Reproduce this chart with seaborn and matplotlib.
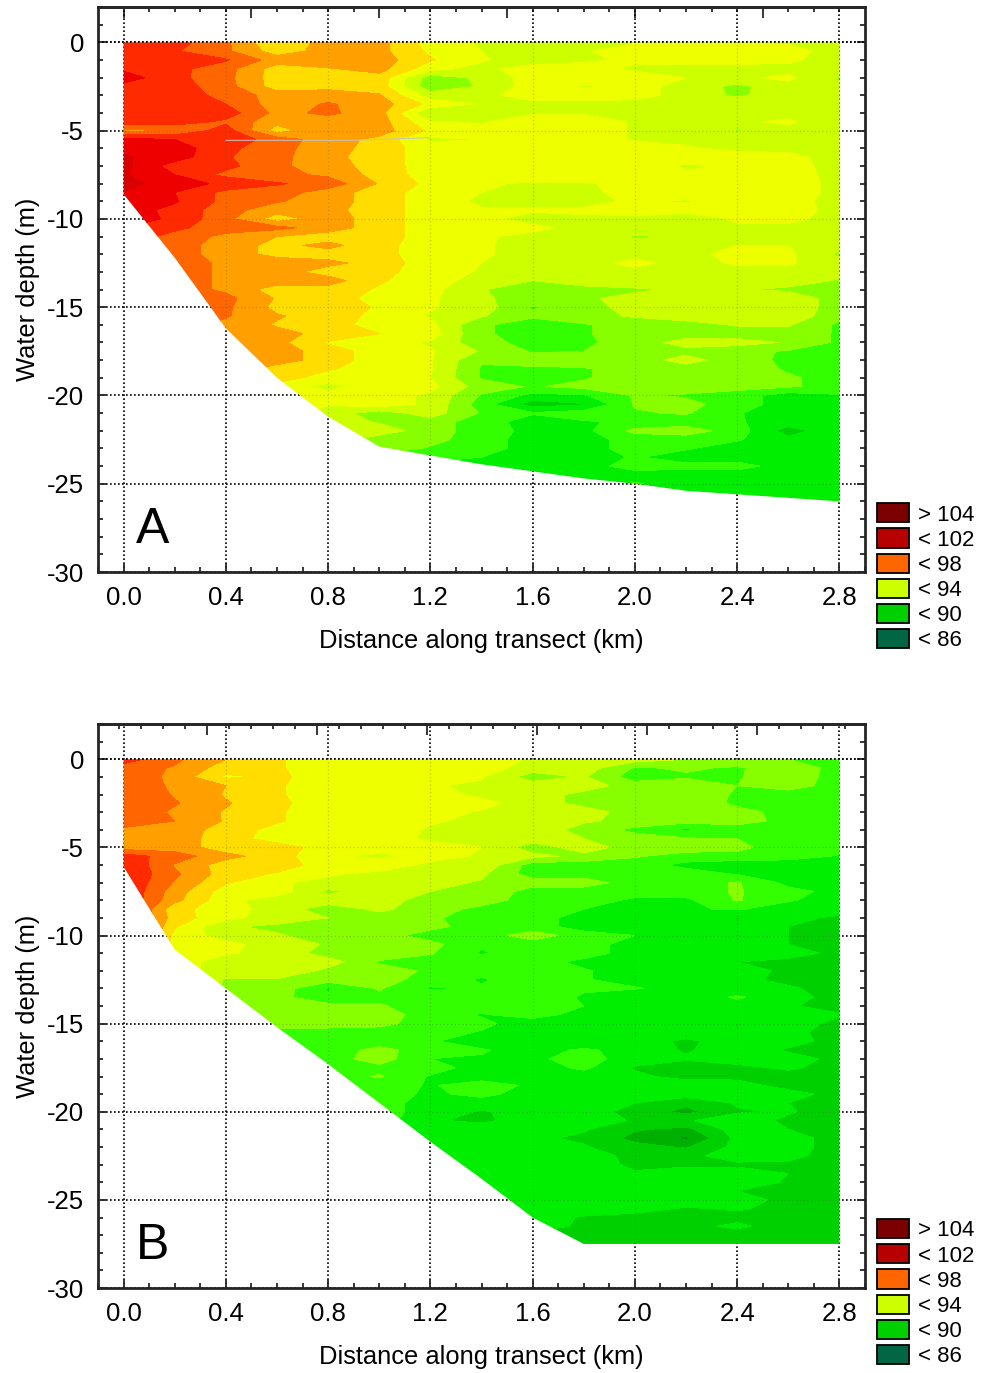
import numpy as np
import matplotlib
matplotlib.use('Agg')
import matplotlib.pyplot as plt
import seaborn as sns
from matplotlib.colors import ListedColormap, BoundaryNorm
from matplotlib.patches import Patch, Polygon
from matplotlib.ticker import MultipleLocator

# Distance stations (km)
distance = [0.0, 0.2, 0.4, 0.6, 0.8, 1.0, 1.2, 1.4, 1.6, 1.8, 2.0, 2.2, 2.4, 2.6, 2.8]

seabed_a = [-8.6, -12.2, -16.2, -19.0, -21.2, -22.9, -23.4, -23.9, -24.3, -24.7, -25.0, -25.4, -25.6, -25.8, -26.0]
seabed_b = [-6.1, -10.8, -13.0, -15.2, -17.3, -19.5, -21.7, -23.8, -26.0, -27.5, -27.5, -27.5, -27.5, -27.5, -27.5]

# one row per half metre of depth, starting at the surface
values_a = [
    [99.0, 98.9, 97.7, 95.5, 97.0, 96.9, 95.0, 94.4, 94.4, 94.4, 94.4, 94.4, 94.4, 94.4, 94.0],
    [99.3, 98.6, 97.7, 96.0, 96.9, 96.8, 95.3, 94.5, 94.4, 94.4, 95.0, 95.0, 95.0, 94.9, 94.0],
    [99.3, 99.0, 98.6, 97.0, 97.2, 97.0, 95.6, 94.6, 94.0, 94.3, 94.7, 94.7, 94.8, 94.7, 94.0],
    [99.3, 98.8, 97.9, 96.0, 96.4, 96.9, 94.8, 94.2, 95.0, 95.0, 94.3, 94.3, 94.2, 94.2, 94.0],
    [100.0, 98.8, 97.8, 96.0, 96.4, 96.1, 93.0, 93.7, 95.0, 95.1, 95.0, 94.5, 94.3, 94.7, 93.4],
    [99.2, 99.0, 97.9, 96.0, 96.2, 96.0, 92.8, 93.6, 95.0, 94.4, 94.8, 94.2, 93.2, 94.2, 93.6],
    [99.2, 99.0, 98.2, 97.0, 97.0, 96.6, 94.0, 94.2, 95.0, 95.0, 94.8, 94.2, 93.3, 94.2, 94.2],
    [99.3, 99.1, 98.5, 97.0, 97.6, 97.0, 95.2, 94.4, 94.2, 94.2, 94.2, 94.2, 94.3, 94.2, 94.2],
    [99.3, 99.2, 99.0, 97.2, 97.7, 96.9, 93.4, 94.0, 94.4, 94.4, 94.3, 94.3, 93.9, 94.3, 94.2],
    [99.2, 99.0, 98.3, 96.8, 97.0, 97.0, 94.6, 94.4, 95.0, 95.0, 94.4, 94.4, 94.4, 94.6, 94.0],
    [97.2, 97.6, 99.0, 96.0, 97.5, 97.0, 95.3, 94.8, 95.0, 95.0, 94.4, 94.4, 93.4, 94.3, 94.2],
    [99.8, 99.5, 99.2, 98.0, 97.0, 96.2, 94.3, 94.5, 95.0, 95.0, 94.4, 94.3, 94.3, 94.3, 94.2],
    [100.3, 100.0, 98.8, 97.8, 97.0, 96.0, 95.0, 94.8, 95.2, 95.0, 95.0, 94.6, 94.3, 94.3, 94.2],
    [100.6, 100.0, 98.6, 97.8, 96.8, 96.0, 95.0, 95.0, 95.2, 95.2, 95.0, 94.9, 94.9, 94.7, 94.2],
    [100.8, 99.0, 98.8, 97.7, 97.0, 96.0, 95.0, 95.0, 95.2, 95.0, 95.0, 94.4, 94.6, 94.8, 94.2],
    [100.6, 99.5, 98.2, 97.8, 97.3, 96.1, 95.0, 94.9, 95.0, 95.0, 94.6, 94.6, 95.0, 94.9, 94.2],
    [101.0, 99.7, 99.4, 98.6, 98.1, 96.4, 95.2, 94.6, 94.4, 94.4, 94.8, 94.8, 95.0, 95.0, 94.2],
    [100.4, 99.5, 98.2, 98.0, 97.0, 96.0, 95.0, 94.5, 94.3, 94.3, 94.8, 95.0, 95.0, 95.0, 94.2],
    [100.3, 99.6, 98.2, 97.6, 97.0, 96.0, 95.0, 94.3, 94.3, 94.3, 94.6, 94.4, 94.9, 94.9, 94.1],
    [100.0, 99.2, 97.9, 96.9, 96.8, 96.0, 95.0, 94.6, 94.6, 94.6, 94.9, 94.9, 95.0, 94.9, 94.2],
    [100.0, 99.3, 97.8, 96.0, 97.0, 96.0, 95.0, 94.7, 94.2, 94.4, 94.3, 93.8, 94.7, 94.7, 94.2],
    [99.5, 98.7, 98.0, 97.8, 97.0, 96.0, 95.0, 94.8, 94.7, 94.2, 94.2, 94.2, 94.3, 94.3, 94.2],
    [99.0, 98.2, 97.2, 96.5, 96.0, 96.0, 95.0, 94.6, 94.3, 94.2, 93.4, 93.6, 93.6, 94.0, 94.2],
    [98.7, 98.0, 97.0, 96.2, 96.8, 95.8, 95.0, 94.6, 94.2, 94.2, 94.2, 94.2, 94.5, 94.5, 94.0],
    [98.5, 98.0, 97.0, 96.2, 96.0, 95.8, 95.0, 94.6, 94.2, 94.3, 94.3, 94.2, 94.8, 94.7, 93.3],
    [98.5, 98.0, 97.3, 97.0, 96.8, 96.0, 95.0, 94.5, 94.2, 94.2, 94.7, 94.2, 94.6, 94.6, 94.0],
    [98.0, 98.0, 97.3, 97.0, 96.0, 95.8, 95.0, 94.4, 94.0, 94.0, 94.3, 94.2, 94.3, 94.2, 93.8],
    [98.0, 98.0, 97.3, 97.0, 97.0, 95.6, 95.0, 94.0, 93.5, 93.8, 94.0, 94.0, 94.0, 94.0, 93.4],
    [98.0, 98.0, 97.3, 96.0, 96.0, 95.4, 94.8, 93.6, 92.7, 93.3, 93.4, 93.6, 93.6, 93.3, 92.5],
    [98.0, 98.0, 97.8, 96.4, 95.9, 95.2, 94.7, 93.6, 93.2, 93.4, 93.7, 94.2, 94.3, 94.2, 93.0],
    [98.0, 98.0, 97.7, 96.2, 96.0, 95.4, 94.6, 94.0, 92.4, 93.2, 93.8, 94.2, 94.2, 94.2, 93.0],
    [98.0, 98.0, 97.6, 96.6, 96.0, 95.2, 94.4, 93.6, 92.6, 93.2, 93.6, 94.0, 94.2, 94.2, 92.8],
    [98.0, 98.0, 97.2, 96.4, 96.0, 95.0, 94.8, 92.6, 92.2, 92.4, 93.0, 93.1, 93.6, 93.6, 92.3],
    [98.0, 98.0, 97.2, 96.8, 96.2, 95.5, 95.0, 92.6, 92.2, 92.4, 93.0, 93.0, 93.0, 93.0, 92.4],
    [98.0, 98.0, 97.2, 96.8, 95.4, 94.8, 94.4, 92.8, 92.2, 92.3, 93.0, 93.9, 93.9, 93.4, 92.3],
    [98.0, 98.0, 97.2, 97.0, 96.0, 95.0, 94.6, 93.4, 92.4, 92.5, 93.0, 93.2, 92.8, 92.4, 92.2],
    [98.0, 98.0, 97.2, 97.0, 96.0, 95.0, 94.6, 92.6, 93.0, 93.0, 93.0, 93.9, 92.9, 92.3, 92.2],
    [98.0, 98.0, 97.2, 96.0, 95.6, 95.0, 94.6, 92.4, 92.3, 92.4, 93.0, 93.0, 93.0, 92.4, 92.2],
    [98.0, 98.0, 97.2, 96.0, 95.0, 95.0, 94.5, 92.4, 92.3, 92.4, 93.0, 93.0, 93.0, 92.6, 92.2],
    [98.0, 98.0, 97.2, 95.0, 94.2, 95.0, 94.8, 93.0, 92.4, 92.8, 93.0, 93.0, 92.9, 92.6, 92.2],
    [98.0, 98.0, 97.2, 95.0, 95.0, 95.0, 94.3, 92.4, 91.2, 91.4, 92.6, 92.4, 92.0, 91.0, 91.4],
    [98.0, 98.0, 97.2, 95.0, 94.6, 95.0, 94.3, 92.0, 90.0, 90.4, 92.6, 92.8, 92.0, 91.0, 91.3],
    [98.0, 98.0, 97.2, 95.0, 94.0, 93.0, 94.0, 92.4, 91.6, 92.0, 92.4, 92.6, 91.6, 90.8, 91.0],
    [98.0, 98.0, 97.2, 95.0, 94.0, 93.4, 93.0, 92.0, 91.0, 91.4, 91.7, 92.0, 91.6, 91.0, 91.2],
    [98.0, 98.0, 97.2, 95.0, 94.0, 94.0, 93.0, 92.0, 91.2, 91.2, 92.8, 93.0, 92.0, 90.0, 91.3],
    [98.0, 98.0, 97.2, 95.0, 94.0, 93.0, 92.8, 92.0, 91.0, 91.2, 91.8, 92.0, 91.6, 90.8, 91.0],
    [98.0, 98.0, 97.2, 95.0, 94.0, 93.0, 92.4, 92.0, 91.0, 91.0, 92.0, 91.6, 91.0, 91.0, 91.0],
    [98.0, 98.0, 97.2, 95.0, 94.0, 92.0, 92.0, 91.5, 91.0, 91.0, 91.6, 91.0, 91.0, 91.0, 91.0],
    [98.0, 98.0, 97.2, 95.0, 94.0, 92.0, 91.0, 91.0, 91.0, 91.0, 92.0, 91.8, 91.9, 91.0, 91.0],
    [98.0, 98.0, 97.2, 95.0, 94.0, 92.0, 91.0, 91.0, 91.0, 91.0, 91.0, 91.0, 91.0, 91.0, 91.0],
    [98.0, 98.0, 97.2, 95.0, 94.0, 92.0, 91.0, 91.0, 91.0, 91.0, 91.6, 91.0, 91.0, 91.0, 91.0],
    [98.0, 98.0, 97.2, 95.0, 94.0, 92.0, 91.0, 91.0, 91.0, 91.0, 91.0, 91.0, 91.0, 91.0, 91.0],
    [98.0, 98.0, 97.2, 95.0, 94.0, 92.0, 91.0, 91.0, 91.0, 91.0, 91.0, 91.0, 91.0, 91.0, 91.0],
]

values_b = [
    [99.0, 97.7, 96.5, 95.6, 95.0, 95.0, 95.0, 94.9, 94.4, 94.4, 94.0, 93.5, 93.0, 92.5, 92.0],
    [98.0, 97.4, 96.0, 95.6, 95.0, 95.0, 95.0, 95.0, 94.0, 94.0, 92.4, 92.6, 92.4, 93.0, 92.2],
    [98.3, 97.2, 95.3, 95.7, 95.0, 95.0, 95.0, 94.6, 93.0, 93.6, 92.0, 92.4, 92.4, 93.2, 92.0],
    [98.3, 97.3, 96.5, 95.6, 95.0, 95.0, 94.6, 94.3, 94.0, 94.0, 93.0, 93.0, 92.5, 93.0, 92.0],
    [98.4, 97.4, 96.4, 95.6, 95.0, 95.0, 94.9, 94.3, 94.0, 93.2, 92.6, 93.0, 92.4, 92.0, 92.0],
    [98.4, 97.6, 96.6, 95.7, 95.0, 95.0, 95.0, 94.8, 94.0, 93.2, 93.0, 93.2, 92.3, 92.0, 92.0],
    [98.4, 97.3, 96.4, 95.6, 95.0, 95.0, 94.9, 94.4, 94.0, 94.0, 93.0, 93.0, 92.8, 92.2, 92.0],
    [97.8, 97.5, 96.4, 95.6, 95.0, 95.0, 94.6, 94.3, 94.0, 93.6, 93.3, 92.9, 92.9, 92.2, 92.0],
    [97.4, 97.2, 96.0, 95.2, 95.0, 95.0, 94.4, 94.2, 94.0, 93.2, 92.2, 91.3, 92.0, 92.0, 92.0],
    [97.2, 97.0, 96.0, 95.0, 95.0, 95.0, 94.3, 94.2, 94.0, 93.5, 93.0, 92.6, 92.5, 92.0, 92.0],
    [97.0, 97.0, 96.0, 96.0, 95.0, 95.0, 95.0, 94.5, 93.0, 94.0, 93.0, 93.0, 92.9, 91.6, 92.0],
    [99.0, 98.0, 96.8, 96.0, 94.6, 94.3, 94.8, 94.4, 93.8, 93.2, 92.6, 92.1, 92.0, 92.0, 91.4],
    [99.5, 97.4, 96.0, 96.0, 95.0, 95.0, 94.3, 94.3, 92.0, 92.0, 92.0, 91.2, 91.0, 90.8, 91.0],
    [99.5, 97.7, 96.0, 95.4, 94.6, 94.3, 94.2, 93.7, 92.0, 92.0, 92.0, 92.0, 91.4, 91.0, 91.0],
    [99.5, 97.4, 95.6, 94.6, 94.3, 94.3, 93.8, 93.4, 93.0, 93.0, 92.0, 92.0, 92.6, 91.2, 91.0],
    [99.5, 97.0, 95.0, 95.0, 93.3, 94.0, 93.5, 93.4, 92.0, 92.0, 92.0, 92.0, 92.6, 91.8, 91.2],
    [99.5, 96.8, 94.8, 94.0, 94.0, 94.0, 93.0, 93.0, 92.0, 92.0, 91.3, 91.3, 92.6, 91.6, 91.0],
    [99.5, 95.8, 95.0, 94.0, 93.0, 93.7, 93.0, 92.2, 92.0, 91.5, 91.2, 91.4, 91.6, 91.0, 91.0],
    [99.5, 96.0, 94.8, 94.0, 93.5, 93.1, 92.6, 92.2, 92.0, 91.0, 90.8, 91.0, 90.4, 90.8, 90.3],
    [99.5, 95.6, 93.6, 93.3, 93.0, 93.0, 92.8, 92.0, 92.0, 91.0, 90.8, 91.0, 91.0, 90.5, 90.2],
    [99.5, 95.2, 94.0, 93.6, 93.0, 93.0, 92.0, 92.0, 93.0, 92.0, 91.5, 91.0, 91.0, 90.5, 90.2],
    [99.5, 95.0, 94.8, 94.0, 93.4, 93.0, 92.8, 91.6, 92.0, 92.0, 91.0, 91.0, 90.7, 90.5, 90.2],
    [99.5, 95.0, 94.6, 94.2, 93.0, 93.0, 92.6, 91.4, 92.0, 92.0, 91.0, 91.4, 91.0, 90.8, 90.3],
    [99.5, 95.0, 94.0, 94.0, 94.0, 92.4, 92.0, 92.0, 92.0, 91.2, 90.8, 90.8, 90.5, 90.3, 89.4],
    [99.5, 95.0, 94.0, 94.4, 93.2, 92.8, 92.4, 91.8, 92.0, 91.6, 91.0, 90.6, 90.7, 90.4, 90.0],
    [99.5, 95.0, 93.4, 93.4, 93.0, 93.0, 92.0, 91.4, 92.0, 91.6, 91.0, 91.0, 90.7, 90.3, 90.0],
    [99.5, 95.0, 93.3, 93.1, 91.4, 92.6, 91.4, 91.6, 92.0, 91.6, 91.6, 91.0, 91.0, 90.6, 90.2],
    [99.5, 95.0, 93.0, 92.9, 91.6, 92.3, 92.0, 92.0, 92.0, 91.4, 90.4, 91.0, 91.6, 91.0, 90.0],
    [99.5, 95.0, 93.0, 93.0, 92.9, 92.6, 92.0, 92.0, 91.7, 91.5, 91.5, 91.3, 91.2, 90.6, 90.1],
    [99.5, 95.0, 93.0, 93.0, 93.0, 93.0, 92.0, 91.4, 92.0, 91.0, 91.0, 91.0, 91.0, 90.8, 90.6],
    [99.5, 95.0, 93.0, 93.0, 93.0, 92.8, 92.0, 91.8, 90.8, 91.0, 91.0, 91.0, 91.0, 91.0, 90.2],
    [99.5, 95.0, 92.0, 92.0, 92.0, 92.0, 92.0, 91.4, 91.0, 91.0, 91.0, 91.0, 91.4, 90.7, 90.2],
    [99.5, 95.0, 92.0, 92.0, 92.0, 92.0, 91.6, 91.0, 91.0, 90.6, 91.0, 90.3, 91.0, 90.8, 90.2],
    [99.5, 95.0, 92.0, 92.0, 92.0, 92.8, 92.0, 91.6, 91.0, 91.7, 91.0, 90.4, 91.0, 90.4, 90.2],
    [99.5, 95.0, 92.0, 92.0, 92.0, 93.0, 91.5, 91.4, 91.3, 91.9, 91.0, 90.6, 91.0, 90.8, 90.3],
    [99.5, 95.0, 92.0, 92.0, 92.0, 92.2, 92.0, 91.0, 91.0, 91.7, 90.4, 90.0, 90.2, 90.7, 90.0],
    [99.5, 95.0, 92.0, 92.0, 92.0, 92.6, 91.4, 91.0, 91.0, 91.0, 90.7, 90.2, 90.3, 90.0, 89.7],
    [99.5, 95.0, 92.0, 92.0, 92.0, 92.0, 91.4, 92.0, 91.3, 91.0, 91.0, 91.0, 90.8, 90.2, 90.1],
    [99.5, 95.0, 92.0, 92.0, 92.0, 92.0, 91.3, 91.8, 91.0, 91.0, 91.0, 91.0, 91.5, 90.8, 90.2],
    [99.5, 95.0, 92.0, 92.0, 92.0, 92.0, 91.0, 91.0, 91.0, 91.0, 90.5, 89.7, 90.6, 90.5, 90.2],
    [99.5, 95.0, 92.0, 92.0, 92.0, 92.0, 91.0, 90.4, 90.9, 90.9, 90.2, 89.2, 90.4, 90.6, 90.0],
    [99.5, 95.0, 92.0, 92.0, 92.0, 92.0, 90.6, 90.3, 91.0, 91.0, 90.4, 90.4, 91.0, 90.3, 89.4],
    [99.5, 95.0, 92.0, 92.0, 92.0, 92.0, 91.0, 91.0, 91.0, 90.6, 89.6, 89.2, 91.0, 90.5, 90.0],
    [99.5, 95.0, 92.0, 92.0, 92.0, 92.0, 91.0, 91.0, 90.7, 90.3, 89.2, 88.3, 90.8, 91.0, 90.0],
    [99.5, 95.0, 92.0, 92.0, 92.0, 92.0, 91.0, 91.0, 91.0, 90.6, 89.8, 89.4, 90.8, 91.0, 90.0],
    [99.5, 95.0, 92.0, 92.0, 92.0, 92.0, 91.0, 91.0, 91.1, 91.0, 90.2, 90.2, 91.0, 90.8, 90.0],
    [99.5, 95.0, 92.0, 92.0, 92.0, 92.0, 91.0, 91.0, 91.3, 91.0, 90.3, 90.3, 90.3, 90.3, 90.0],
    [99.5, 95.0, 92.0, 92.0, 92.0, 92.0, 91.0, 91.0, 91.0, 91.0, 90.6, 91.0, 91.0, 90.5, 90.0],
    [99.5, 95.0, 92.0, 92.0, 92.0, 92.0, 91.0, 91.0, 91.0, 91.0, 91.0, 91.0, 91.0, 90.4, 90.0],
    [99.5, 95.0, 92.0, 92.0, 92.0, 92.0, 91.0, 91.0, 91.0, 91.0, 91.0, 90.5, 90.5, 90.4, 90.0],
    [99.5, 95.0, 92.0, 92.0, 92.0, 92.0, 91.0, 91.0, 91.0, 91.0, 91.0, 91.0, 90.8, 90.3, 90.0],
    [99.5, 95.0, 92.0, 92.0, 92.0, 92.0, 91.0, 91.0, 91.0, 91.0, 90.8, 90.4, 90.6, 90.2, 90.0],
    [99.5, 95.0, 92.0, 92.0, 92.0, 92.0, 91.0, 91.0, 91.0, 90.4, 90.2, 90.3, 90.2, 90.1, 90.0],
    [99.5, 95.0, 92.0, 92.0, 92.0, 92.0, 91.0, 91.0, 91.0, 90.3, 90.1, 90.2, 90.7, 90.0, 89.7],
    [99.5, 95.0, 92.0, 92.0, 92.0, 92.0, 91.0, 91.0, 90.2, 90.0, 90.0, 90.0, 90.0, 90.0, 89.5],
    [99.5, 95.0, 92.0, 92.0, 92.0, 92.0, 91.0, 91.0, 90.2, 90.0, 90.0, 90.0, 90.0, 90.0, 89.5],
]

band_values = list(range(86, 105))
band_colors = ['#006644', '#007a30', '#008f18', '#00b000', '#00d000', '#00ee00', '#33ff00', '#88ff00',
               '#ccff00', '#eeff00', '#ffdd00', '#ffa000', '#ff6600', '#ff2a00', '#ee0000', '#d80000',
               '#b80000', '#a00000', '#7b0000']

legend_labels = ['> 104', '< 102', '< 98', '< 94', '< 90', '< 86']
legend_colors = ['#7b0000', '#b80000', '#ff6600', '#ccff00', '#00d000', '#006644']

sns.set_style('ticks')
plt.rcParams['font.family'] = ['Liberation Sans', 'DejaVu Sans']
plt.rcParams['axes.unicode_minus'] = False
plt.rcParams['text.color'] = 'black'
plt.rcParams['axes.labelcolor'] = 'black'
plt.rcParams['xtick.labelcolor'] = 'black'
plt.rcParams['ytick.labelcolor'] = 'black'

W, H = 982, 1373
fig = plt.figure(figsize=(W / 100, H / 100), dpi=100)

levels = [v - 0.5 for v in band_values] + [band_values[-1] + 0.5]
cmap = ListedColormap(sns.color_palette(band_colors))
norm = BoundaryNorm(levels, cmap.N)


def draw_panel(top, bottom, values, seabed, letter, top_major, top_minor):
    ax = fig.add_axes([98 / W, 1 - bottom / H, (865 - 98) / W, (bottom - top) / H])
    grid = np.array(values)
    rows = -0.5 * np.arange(grid.shape[0])
    outline = list(zip(distance, [0] * len(distance))) + list(zip(distance[::-1], seabed[::-1]))
    clip = Polygon(outline, closed=True, transform=ax.transData, fc='none', ec='none')
    ax.add_patch(clip)

    cs = ax.contourf(distance, rows, grid, levels=levels, cmap=cmap, norm=norm, zorder=1)
    cs.set_clip_path(clip)

    ax.set_xlim(-0.1, 2.9)
    ax.set_ylim(-30, 2)
    ax.xaxis.set_major_locator(MultipleLocator(0.4))
    ax.xaxis.set_minor_locator(MultipleLocator(0.1))
    ax.yaxis.set_major_locator(MultipleLocator(5))
    ax.yaxis.set_minor_locator(MultipleLocator(1))
    ax.tick_params(axis='both', which='major', direction='in', length=6, width=1.3, labelsize=18.5,
                   top=False, right=True, pad=10)
    ax.tick_params(axis='both', which='minor', direction='in', length=3.5, width=1.3, top=False, right=True)
    ax.set_axisbelow(True)
    ax.grid(True, which='major', color='black', linestyle=(0, (1, 1.4)), linewidth=1.2, zorder=0.5)

    # the grid shows faintly through the fill
    for gx in np.arange(0, 2.81, 0.4):
        ax.plot([gx, gx], [2, -30], color='#555555', lw=0.9, ls=(0, (1, 2)), alpha=0.3, zorder=2, clip_path=clip)
    for gy in np.arange(-5, -26, -5):
        ax.plot([-0.1, 2.9], [gy, gy], color='#555555', lw=0.9, ls=(0, (1, 2)), alpha=0.3, zorder=2, clip_path=clip)
    ax.axhline(0, color='black', lw=1.2, ls=(0, (1, 1.4)), zorder=3)

    sec = ax.secondary_xaxis('top')
    sec.set_xticks(top_major)
    sec.set_xticks(top_minor, minor=True)
    sec.tick_params(which='major', direction='in', length=8, width=1.3, labeltop=False)
    sec.tick_params(which='minor', direction='in', length=3.5, width=1.3)
    sec.spines['top'].set_linewidth(2)

    for s in ax.spines.values():
        s.set_linewidth(2)
        s.set_visible(True)

    ax.set_xlabel('Distance along transect (km)', fontsize=18.4, labelpad=14)
    ax.set_ylabel('Water depth (m)', fontsize=18.4, labelpad=5)
    ax.text(0.05, -27.6, letter, fontsize=36, ha='left', va='center', zorder=5)

    handles = [Patch(facecolor=c, edgecolor='black', linewidth=1.3) for c in legend_colors]
    ax.legend(handles, legend_labels, loc='lower left', bbox_to_anchor=(779 / 767, -0.14), frameon=False,
              fontsize=16, handlelength=1.45, handleheight=0.95, handletextpad=0.4, labelspacing=0.13,
              borderpad=0, borderaxespad=0)
    return ax


ax_a = draw_panel(7, 572, values_a, seabed_a, 'A', np.arange(0, 2.9, 0.5), np.arange(0, 2.9, 0.1))
draw_panel(724, 1288, values_b, seabed_b, 'B', 0.326 + 0.43 * np.arange(0, 7), -0.018 + 0.086 * np.arange(0, 35))

# thin grey sliver left by the contouring in panel A
ax_a.plot([0.4, 0.9, 1.2], [-5.55, -5.55, -5.4], color='#c4c4c4', lw=0.7, zorder=2)

fig.savefig('out.png', dpi=100)
